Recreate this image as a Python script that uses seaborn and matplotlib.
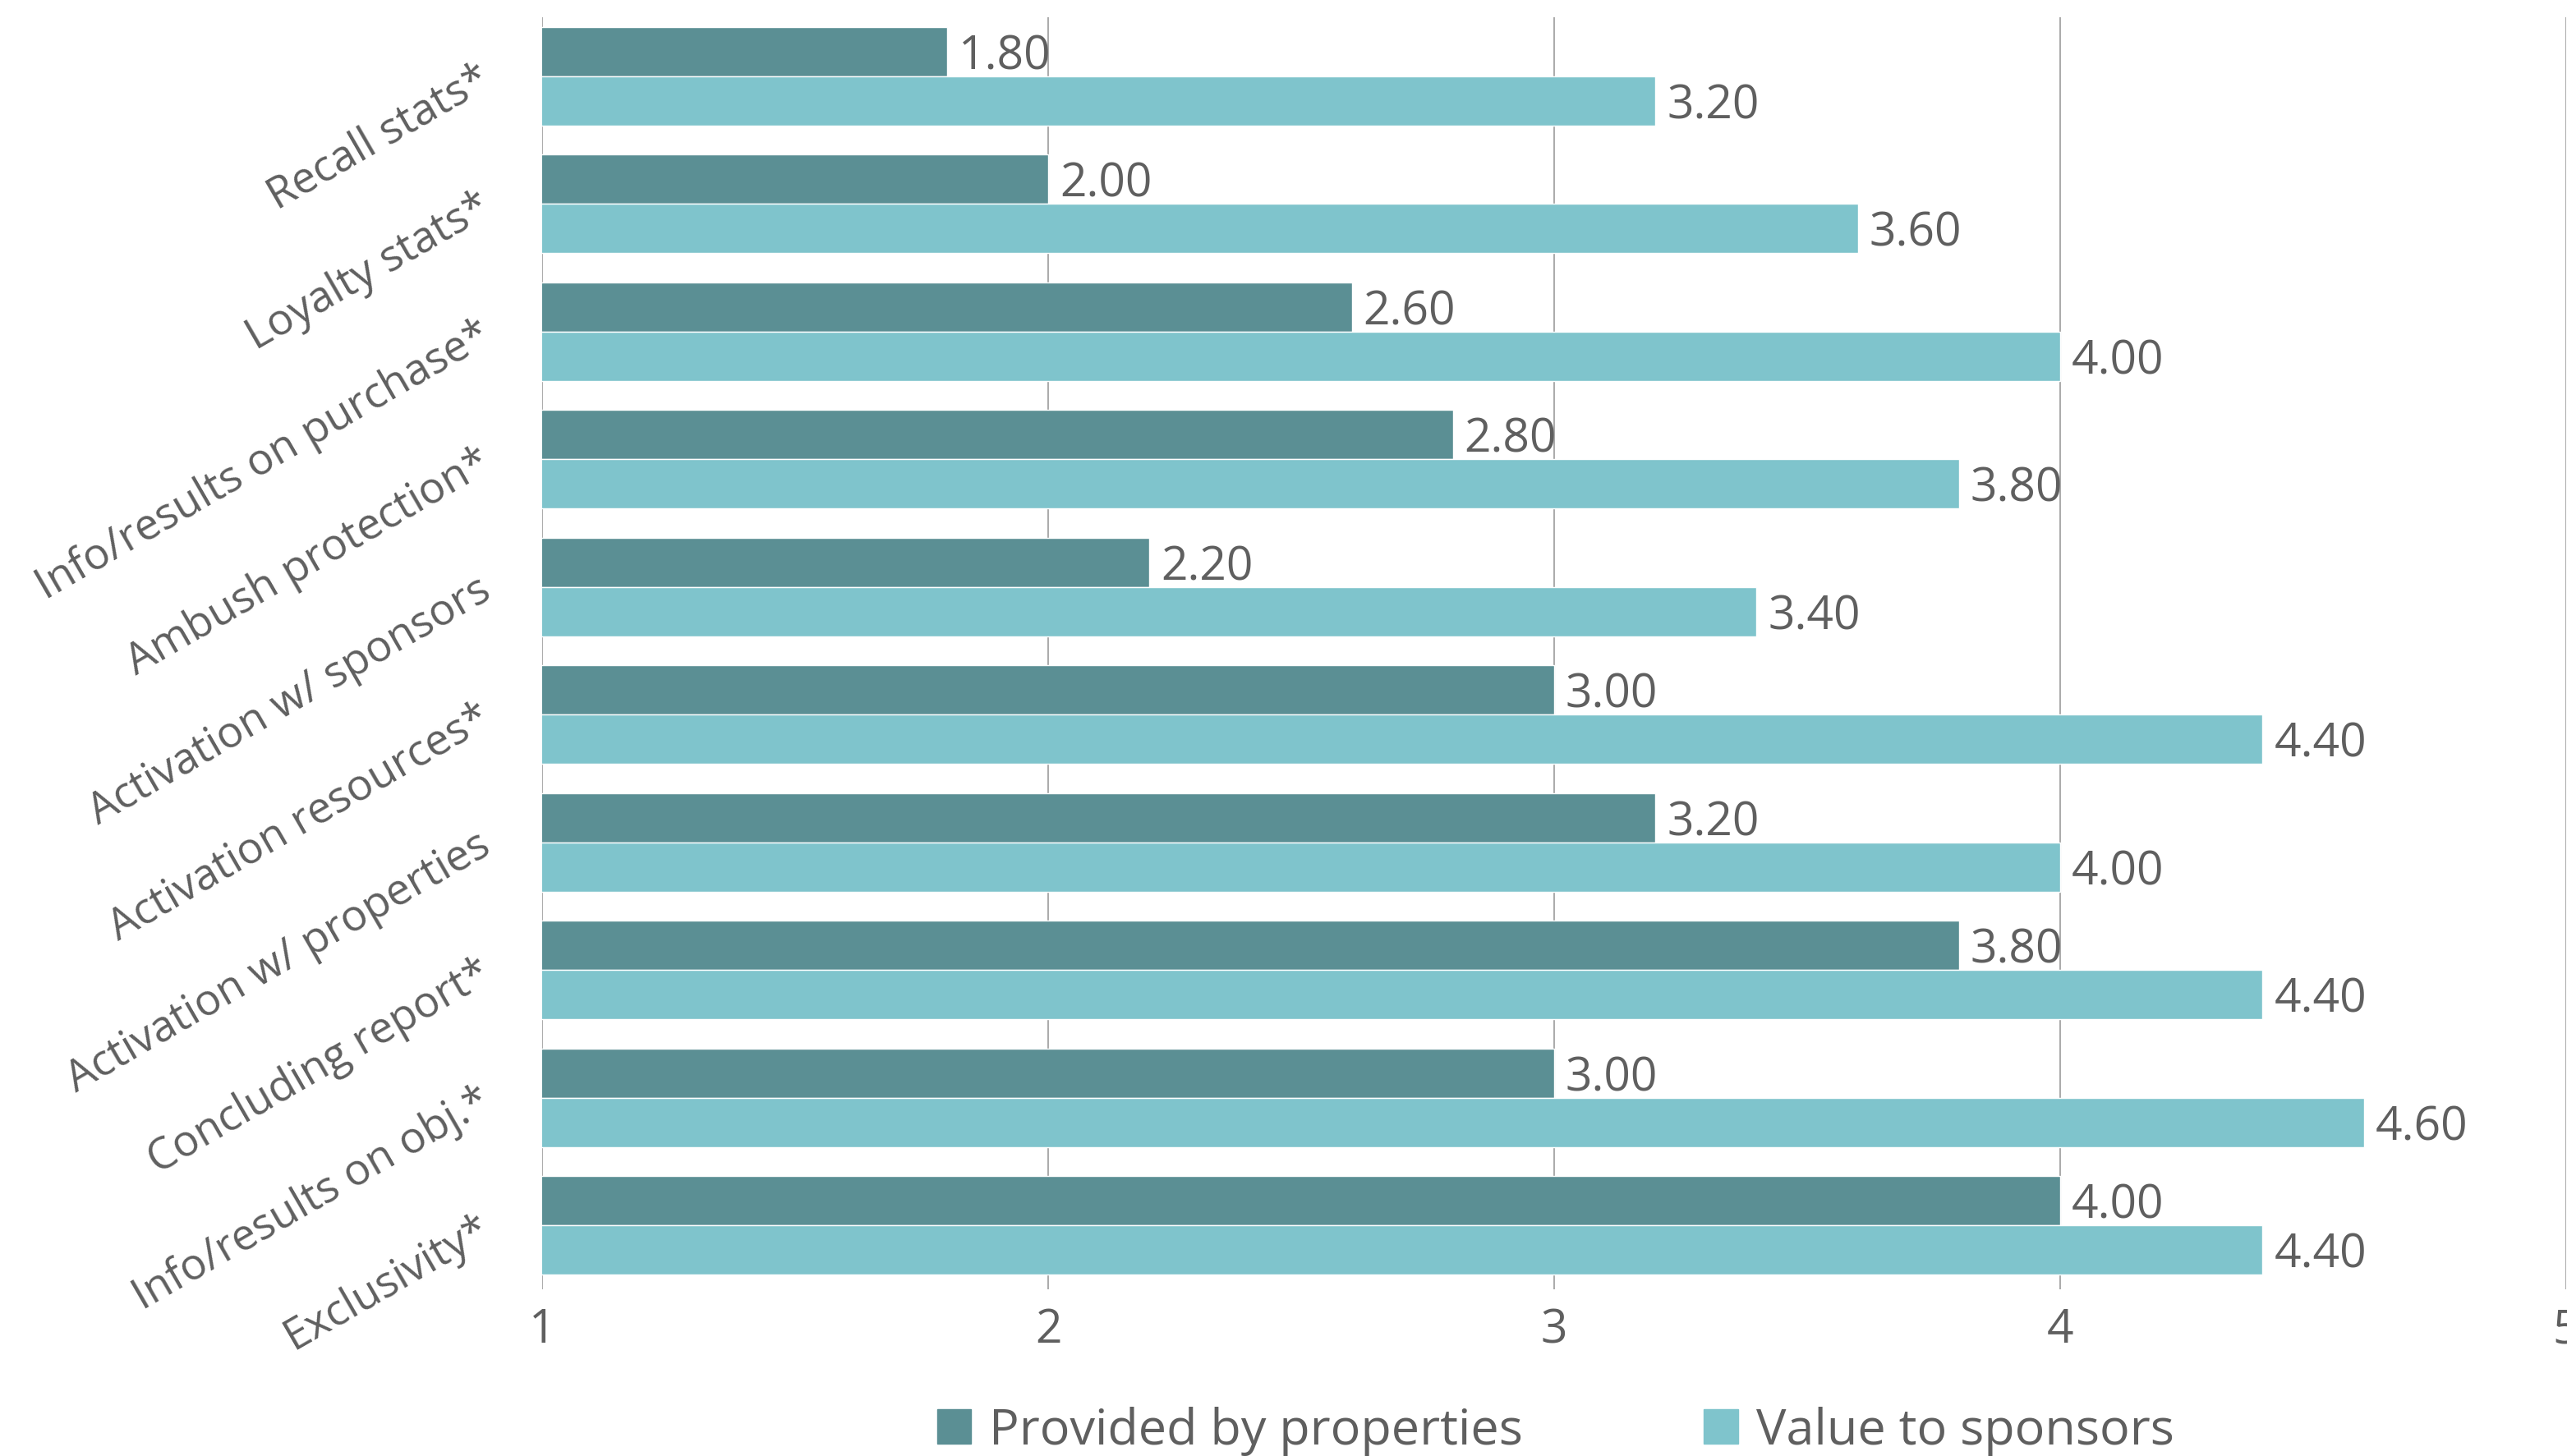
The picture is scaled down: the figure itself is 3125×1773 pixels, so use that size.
import matplotlib
matplotlib.use("Agg")
import matplotlib.pyplot as plt
import seaborn as sns
import pandas as pd

categories = [
    "Recall stats*",
    "Loyalty stats*",
    "Info/results on purchase*",
    "Ambush protection*",
    "Activation w/ sponsors",
    "Activation resources*",
    "Activation w/ properties",
    "Concluding report*",
    "Info/results on obj.*",
    "Exclusivity*",
]
provided_by_properties = [1.80, 2.00, 2.60, 2.80, 2.20, 3.00, 3.20, 3.80, 3.00, 4.00]
value_to_sponsors = [3.20, 3.60, 4.00, 3.80, 3.40, 4.40, 4.00, 4.40, 4.60, 4.40]
series_names = ["Provided by properties", "Value to sponsors"]
x_ticks = [1, 2, 3, 4, 5]

df = pd.DataFrame({
    "category": categories * 2,
    "score": provided_by_properties + value_to_sponsors,
    "series": [series_names[0]] * len(categories) + [series_names[1]] * len(categories),
})

sns.set_theme(style="white")
plt.rcParams["font.family"] = ["Open Sans", "DejaVu Sans"]
text_color = "#5f5f5f"
palette = {series_names[0]: "#5b8f94", series_names[1]: "#7fc4cc"}

fig = plt.figure(figsize=(31.25, 17.73), dpi=100)
ax = fig.add_axes([0.2112, 0.1145, 0.7885, 0.8735])

sns.barplot(data=df, y="category", x="score", hue="series", order=categories,
            hue_order=series_names, palette=palette, orient="h", width=0.77,
            saturation=1, ax=ax, legend=False, zorder=3)

for container in ax.containers:
    labels = ax.bar_label(container, fmt="%.2f", padding=10, fontsize=41,
                          color=text_color)
    for t in labels:
        t.set_va("center_baseline")

ax.set_xlim(1, 5)
ax.set_ylim(len(categories) - 0.5, -0.46)
ax.set_xticks(x_ticks)
ax.set_xticklabels([str(t) for t in x_ticks])
ax.xaxis.grid(True, color="#acacac", linewidth=1.5, zorder=0)
ax.yaxis.grid(False)
ax.set_axisbelow(True)
for s in ax.spines.values():
    s.set_visible(False)
ax.set_xlabel("")
ax.set_ylabel("")
ax.tick_params(axis="x", length=0, pad=16, labelsize=41, labelcolor=text_color)
ax.tick_params(axis="y", length=0, pad=48, labelsize=38, labelcolor=text_color)
for lab in ax.get_yticklabels():
    lab.set_rotation(30)
    lab.set_rotation_mode("anchor")
    lab.set_ha("right")
    lab.set_va("center")

handles = [plt.Rectangle((0, 0), 1, 1, color=palette[n]) for n in series_names]
fig.legend(handles, series_names, loc="center", bbox_to_anchor=(0.606, 0.017),
           ncol=2, frameon=False, fontsize=44, labelcolor=text_color,
           handlelength=0.68, handleheight=0.68, handletextpad=0.36,
           columnspacing=3.6)

fig.savefig("out.png", dpi=100)
